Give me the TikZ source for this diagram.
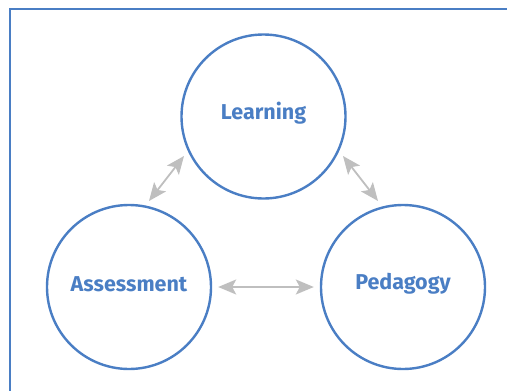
\documentclass[tikz,border=0pt]{standalone}
\usepackage{fontspec}
\setmainfont{Fira Sans}
\usetikzlibrary{arrows.meta}
\definecolor{cblue}{HTML}{4A7EC4}
\definecolor{cgray}{HTML}{BFBFBF}
\begin{document}
\begin{tikzpicture}[x=1pt,y=-1pt,
  circ/.style={circle,draw=cblue,line width=2.4pt,minimum size=164pt,inner sep=0pt},
  lbl/.style={text=cblue,font=\fontsize{21.5}{24}\selectfont\bfseries},
  conn/.style={cgray,line width=1.8pt,{Stealth[length=18pt,width=15pt,inset=4pt]}-{Stealth[length=18pt,width=15pt,inset=4pt]}}]
\useasboundingbox (0,0) rectangle (507,391);
\draw[cblue,line width=2pt] (10,391) -- (10,9) -- (507,9);
\node[circ] (L) at (263.5,116.5) {};
\node[circ] (A) at (129,287) {};
\node[circ] (P) at (403,287) {};
\node[lbl] (Lt) at (263.5,113) {Learning};
\node[lbl] (At) at (129,284) {Assessment};
\node[lbl] (Pt) at (403,284) {Pedagogy};
\draw[conn] ([xshift=6pt]A.east) -- ([xshift=-6pt]P.west);
\coordinate (a1) at (149,201);
\coordinate (a2) at (184,156);
\coordinate (b1) at (343,156);
\coordinate (b2) at (378,201);
\draw[conn] (a1) -- (a2);
\draw[conn] (b1) -- (b2);
\end{tikzpicture}
\end{document}
